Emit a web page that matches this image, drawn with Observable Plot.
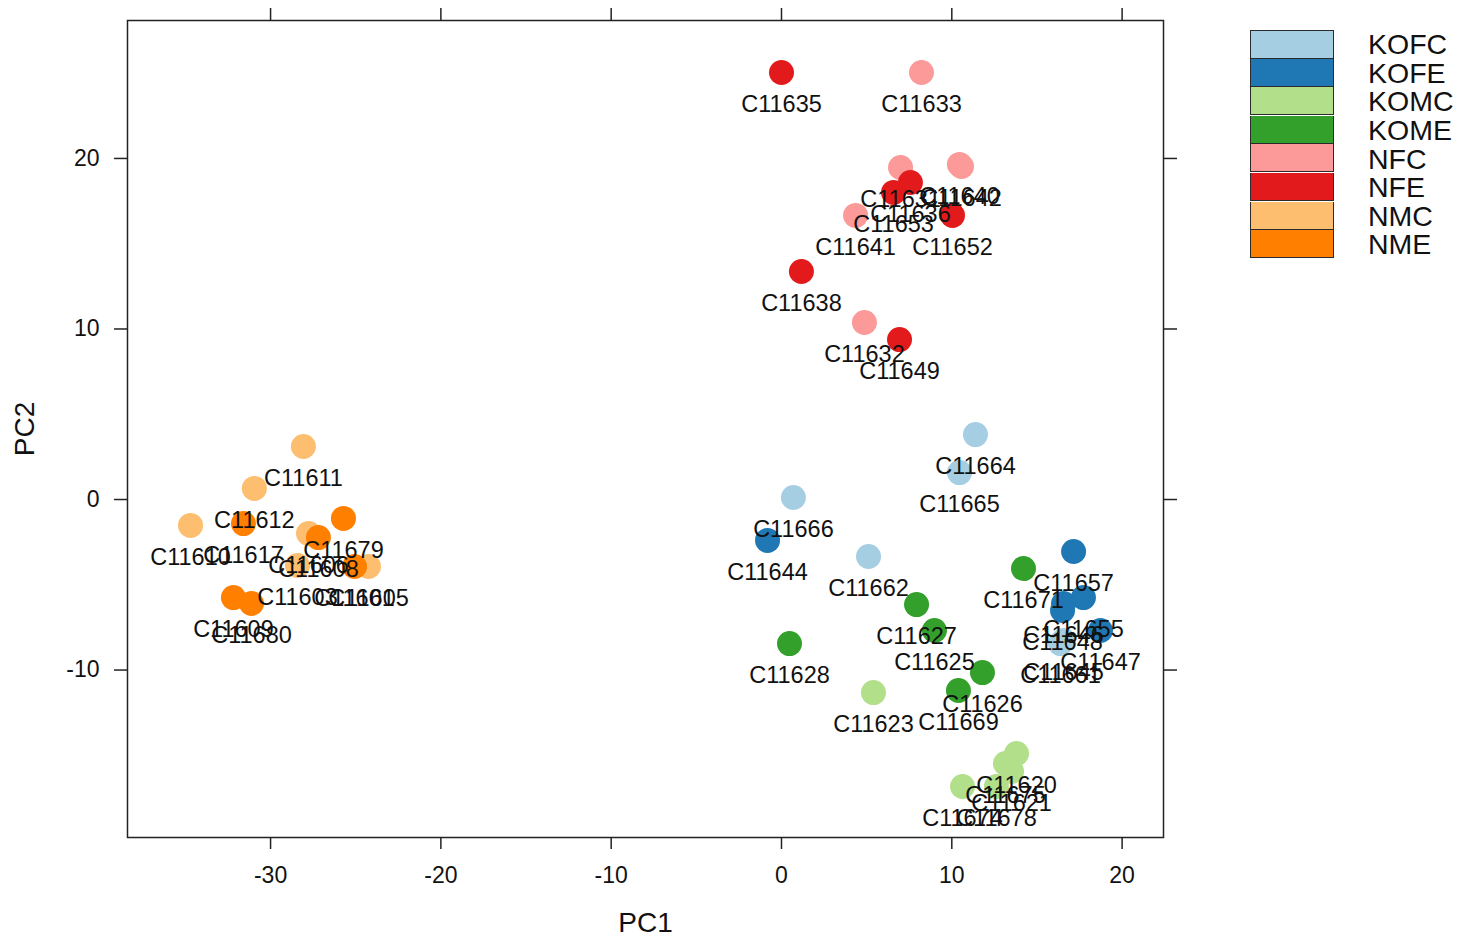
<!DOCTYPE html>
<html>
<head>
<meta charset="utf-8">
<script src="https://cdn.jsdelivr.net/npm/d3@7"></script>
<script src="https://cdn.jsdelivr.net/npm/@observablehq/plot@0.6"></script>
<style>
  html, body { margin: 0; padding: 0; background: white; }
  #wrap { position: relative; width: 1459px; height: 939px; font-family: "Liberation Sans", Arial, sans-serif; }
  #legend { position: absolute; left: 1250px; top: 30px; }
  .row { position: relative; height: 28.6px; }
  .sw { position: absolute; left: 0; top: 0; width: 82px; height: 27.1px; border: 1.5px solid #2a2a2a; }
  .row + .row .sw { border-top: none; height: 27.1px; top: 0; }
  .lb { position: absolute; left: 118px; top: 50%; transform: translateY(-50%); font-size: 28.5px; color: #111; line-height: 1; white-space: nowrap; }
</style>
</head>
<body>
<div id="wrap"><div id="chart"></div><div id="legend"></div></div>
<script>
const groups = ["KOFC","KOFE","KOMC","KOME","NFC","NFE","NMC","NME"];
const colors = ["#A6CEE3","#1F78B4","#B2DF8A","#33A02C","#FB9A99","#E31A1C","#FDBF6F","#FF7F00"];

const names = [
  "C11664","C11665","C11666","C11662","C11661","C11645",
  "C11644","C11657","C11655","C11646","C11648","C11647",
  "C11623","C11620","C11675","C11621","C11674","C11678",
  "C11671","C11627","C11625","C11628","C11626","C11669",
  "C11633","C11631","C11640","C11642","C11641","C11632",
  "C11635","C11636","C11653","C11652","C11638","C11649",
  "C11611","C11612","C11610","C11606","C11603","C11605",
  "C11617","C11679","C11608","C11601","C11609","C11680"
];
const sampleGroup = [
  "KOFC","KOFC","KOFC","KOFC","KOFC","KOFC",
  "KOFE","KOFE","KOFE","KOFE","KOFE","KOFE",
  "KOMC","KOMC","KOMC","KOMC","KOMC","KOMC",
  "KOME","KOME","KOME","KOME","KOME","KOME",
  "NFC","NFC","NFC","NFC","NFC","NFC",
  "NFE","NFE","NFE","NFE","NFE","NFE",
  "NMC","NMC","NMC","NMC","NMC","NMC",
  "NME","NME","NME","NME","NME","NME"
];
const pc1 = [
  11.39, 10.45, 0.70, 5.11, 16.38, 16.56,
  -0.82, 17.15, 17.73, 16.56, 16.50, 18.73,
  5.40, 13.80, 13.15, 13.51, 10.63, 12.62,
  14.21, 7.93, 8.98, 0.47, 11.80, 10.39,
  8.22, 6.99, 10.45, 10.57, 4.35, 4.87,
  0.00, 7.57, 6.58, 10.04, 1.17, 6.93,
  -28.07, -30.95, -34.70, -27.77, -28.42, -24.25,
  -31.59, -25.72, -27.19, -25.07, -32.18, -31.12
];
const pc2 = [
  3.81, 1.58, 0.12, -3.34, -8.45, -8.27,
  -2.40, -3.05, -5.75, -6.10, -6.51, -7.68,
  -11.32, -14.90, -15.48, -15.95, -16.83, -16.83,
  -4.05, -6.16, -7.68, -8.45, -10.15, -11.20,
  25.04, 19.47, 19.65, 19.53, 16.66, 10.38,
  25.04, 18.59, 18.01, 16.66, 13.37, 9.38,
  3.11, 0.65, -1.52, -1.99, -3.87, -3.93,
  -1.41, -1.11, -2.23, -3.93, -5.75, -6.10
];
const xTicks = [-30, -20, -10, 0, 10, 20];
const yTicks = [-10, 0, 10, 20];

const data = names.map((n, i) => ({name: n, group: sampleGroup[i], pc1: pc1[i], pc2: pc2[i]}));

const font = "Liberation Sans, Arial, sans-serif";
const hyphen = d => String(d);
const chart = Plot.plot({
  width: 1459,
  height: 939,
  marginLeft: 127,
  marginRight: 296,
  marginTop: 20,
  marginBottom: 102,
  style: {fontFamily: font, background: "white", color: "#111"},
  x: {domain: [-38.40, 22.43]},
  y: {domain: [-19.82, 28.09]},
  color: {domain: groups, range: colors},
  marks: [
    Plot.dot(data, {x: "pc1", y: "pc2", fill: "group", r: 12.5}),
    Plot.text(data, {x: "pc1", y: "pc2", text: "name", dy: 32, fontSize: 23.5, fill: "#111"}),
    Plot.frame({stroke: "#222", strokeWidth: 1.5}),
    Plot.axisX({anchor: "bottom", ticks: xTicks, tickFormat: hyphen, tickSize: 12, tickPadding: 17, fontSize: 23, label: null, stroke: "#222", strokeWidth: 1.5}),
    Plot.axisX({anchor: "top", ticks: xTicks, tickSize: 13, tickFormat: () => "", label: null, stroke: "#222", strokeWidth: 1.5}),
    Plot.axisY({anchor: "left", ticks: yTicks, tickFormat: hyphen, tickSize: 13, tickPadding: 15, fontSize: 23, label: null, stroke: "#222", strokeWidth: 1.5}),
    Plot.axisY({anchor: "right", ticks: yTicks, tickSize: 13, tickFormat: () => "", label: null, stroke: "#222", strokeWidth: 1.5}),
    Plot.text(["PC1"], {frameAnchor: "bottom", dy: 86, lineAnchor: "middle", textAnchor: "middle", fontSize: 28, fill: "#111"}),
    Plot.text(["PC2"], {frameAnchor: "left", dx: -102, rotate: -90, lineAnchor: "middle", textAnchor: "middle", fontSize: 28, fill: "#111"})
  ]
});
document.getElementById("chart").appendChild(chart);

const legend = document.getElementById("legend");
groups.forEach((g, i) => {
  const row = document.createElement("div");
  row.className = "row";
  const sw = document.createElement("div");
  sw.className = "sw";
  sw.style.background = colors[i];
  const lb = document.createElement("div");
  lb.className = "lb";
  lb.textContent = g;
  row.appendChild(sw);
  row.appendChild(lb);
  legend.appendChild(row);
});
</script>
</body>
</html>
